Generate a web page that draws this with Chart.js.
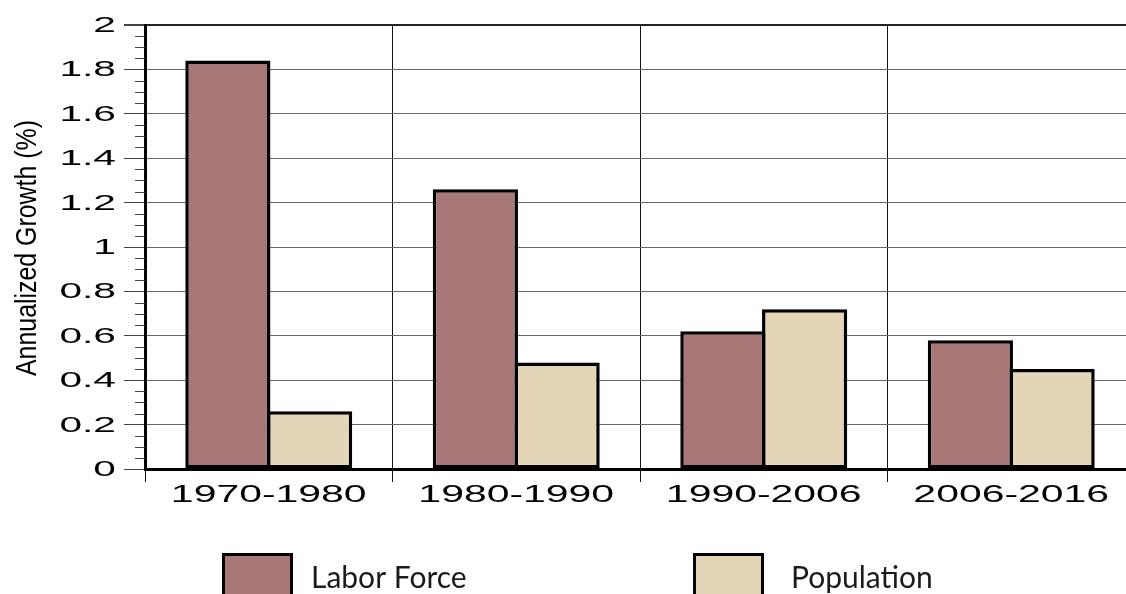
<!DOCTYPE html>
<html><head><meta charset="utf-8">
<script src="https://cdn.jsdelivr.net/npm/chart.js@4/dist/chart.umd.min.js"></script>
<style>
html,body{margin:0;padding:0;overflow:hidden;background:#fff;width:1126px;height:594px}
#wrap{position:absolute;left:0;top:0;width:1140px;height:610px}
</style></head>
<body><div id="wrap"><canvas id="c" width="1140" height="610"></canvas></div>
<script>
const categories = ['1970-1980', '1980-1990', '1990-2006', '2006-2016'];
const laborForce = [1.84, 1.26, 0.62, 0.58];
const population = [0.26, 0.48, 0.72, 0.45];
const seriesNames = ['Labor Force', 'Population'];
const seriesColors = ['#a87878', '#e5d5b8'];
const yTickLabels = ['0', '0.2', '0.4', '0.6', '0.8', '1', '1.2', '1.4', '1.6', '1.8', '2'];
const yTitle = 'Annualized Growth (%)';

function isMajor(v) { const r = v / 0.2; return Math.abs(r - Math.round(r)) < 1e-6; }

const textPlugin = {
  id: 'texts',
  afterDraw(chart) {
    const { ctx, chartArea, scales: { x, y } } = chart;
    ctx.save();
    // minor ticks
    ctx.strokeStyle = '#444'; ctx.lineWidth = 1;
    y.ticks.forEach(t => {
      if (!isMajor(t.value)) {
        const py = Math.round(y.getPixelForValue(t.value)) + 0.5;
        ctx.beginPath(); ctx.moveTo(chartArea.left - 10, py); ctx.lineTo(chartArea.left, py); ctx.stroke();
      }
    });
    // y tick labels
    ctx.fillStyle = '#000';
    ctx.font = '22px "Liberation Sans", Arial, sans-serif';
    ctx.textAlign = 'right'; ctx.textBaseline = 'middle';
    yTickLabels.forEach(lbl => {
      const py = y.getPixelForValue(parseFloat(lbl));
      ctx.save(); ctx.translate(116, py + 1); ctx.scale(1.85, 1); ctx.fillText(lbl, 0, 0); ctx.restore();
    });
    // x tick labels
    ctx.font = '23px "Liberation Sans", Arial, sans-serif';
    ctx.textAlign = 'center';
    categories.forEach((c, i) => {
      const px = x.getPixelForValue(i);
      ctx.save(); ctx.translate(px, 496); ctx.scale(1.78, 1); ctx.fillText(c, 0, 0); ctx.restore();
    });
    // y title
    ctx.save();
    ctx.translate(28, (chartArea.top + chartArea.bottom) / 2 + 1);
    ctx.rotate(-Math.PI / 2); ctx.scale(0.83, 1);
    ctx.font = '30px "Liberation Sans", Arial, sans-serif';
    ctx.textAlign = 'center'; ctx.textBaseline = 'middle';
    ctx.fillText(yTitle, 0, 0);
    ctx.restore();
    // legend
    const textX = [311, 791];
    chart.data.datasets.forEach((ds, i) => {
      const bx = 222 + i * 471, by = 553;
      ctx.fillStyle = ds.backgroundColor;
      ctx.fillRect(bx, by, 71, 50);
      ctx.strokeStyle = '#000'; ctx.lineWidth = 3;
      ctx.strokeRect(bx + 1.5, by + 1.5, 68, 47);
      ctx.fillStyle = '#1e1a1b';
      ctx.font = '30px Lato, "Open Sans", sans-serif';
      ctx.textAlign = 'left'; ctx.textBaseline = 'alphabetic';
      ctx.fillText(ds.label, textX[i], 588);
    });
    ctx.restore();
  }
};

new Chart(document.getElementById('c'), {
  type: 'bar',
  data: {
    labels: categories,
    datasets: [
      { label: seriesNames[0], data: laborForce, backgroundColor: seriesColors[0] },
      { label: seriesNames[1], data: population, backgroundColor: seriesColors[1] }
    ]
  },
  options: {
    responsive: false,
    animation: false,
    devicePixelRatio: 1,
    layout: { padding: { top: 25, right: 5, left: 0, bottom: 0 } },
    datasets: {
      bar: { borderColor: '#000', borderWidth: 3.5, categoryPercentage: 0.6606, barPercentage: 1.042, borderSkipped: false }
    },
    plugins: { legend: { display: false }, tooltip: { enabled: false }, title: { display: false } },
    scales: {
      x: {
        grid: { offset: true, color: '#111', lineWidth: 1, tickLength: 13, tickColor: '#111', drawOnChartArea: true },
        border: { color: '#000', width: 3 },
        ticks: { display: false },
        afterFit(s) { s.height = 141; }
      },
      y: {
        min: 0, max: 2,
        ticks: { display: false, stepSize: 0.05, maxTicksLimit: 100, autoSkip: false },
        grid: {
          color: c => isMajor(c.tick.value) ? (c.tick.value > 1.99 ? '#222' : '#6a6a6a') : 'rgba(0,0,0,0)',
          lineWidth: c => (c.tick && c.tick.value > 1.99) ? 2 : 1,
          tickColor: c => isMajor(c.tick.value) ? '#444' : 'rgba(0,0,0,0)',
          tickLength: 21
        },
        border: { color: '#000', width: 3 },
        afterFit(s) { s.width = 145; }
      }
    }
  },
  plugins: [textPlugin]
});
</script>
</body></html>
